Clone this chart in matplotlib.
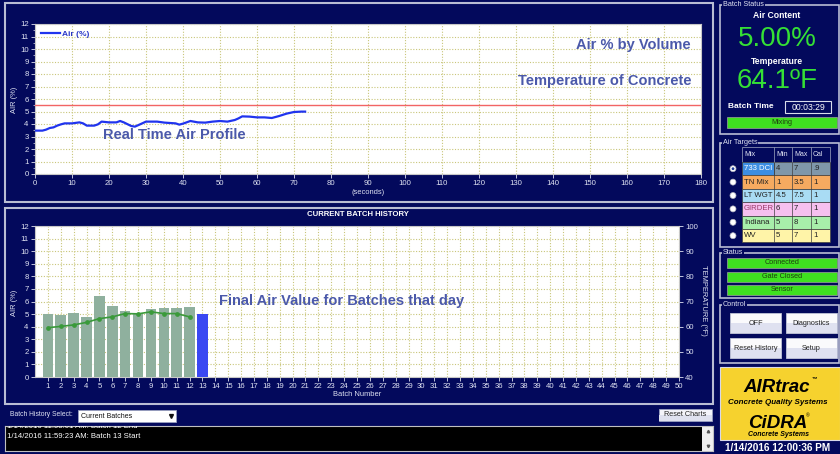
import matplotlib
matplotlib.use('Agg')
import matplotlib.pyplot as plt
from matplotlib.patches import Rectangle, Circle

plt.rcParams['font.family'] = ['Liberation Sans', 'DejaVu Sans']

# ---------------- data ----------------
air_time = [0, 2, 3, 4, 5, 6, 7, 8, 10, 12, 13, 14, 16, 17, 18, 20, 22, 23, 24, 26,
            27, 28, 30, 33, 35, 38, 39, 40, 42, 44, 46, 48, 50, 52, 54, 55, 56, 58, 60, 62,
            64, 66, 68, 70, 72, 73]
air_pct = [3.47, 3.47, 3.55, 3.68, 3.73, 3.87, 3.97, 4.05, 4.05, 4.13,
           4.05, 3.87, 3.87, 3.97, 4.19, 4.13, 4.13, 4.24, 4.13, 3.84,
           3.79, 3.92, 4.19, 4.19, 4.11, 4.05, 3.95, 4.03, 4.24, 4.13,
           4.11, 4.19, 4.24, 4.19, 4.32, 4.45, 4.61, 4.59, 4.53, 4.53,
           4.48, 4.64, 4.83, 4.96, 4.99, 4.99]
air_limit = 5.5

batches = list(range(1, 13))
batch_air = [5.01, 4.93, 5.12, 4.75, 6.45, 5.68, 5.25, 5.07, 5.41, 5.49, 5.49, 5.55]
batch_temp = [59.6, 60.1, 60.7, 61.7, 63.2, 63.9, 65.2, 65.1, 65.9, 65.2, 65.2, 63.9]
current_batch = [13]
current_air = [4.99]

mix_names = ['733 DCI', 'TN Mix', 'LT WGT', 'GIRDER', 'Indiana', 'WV']
mix_min = ['4', '1', '4.5', '6', '5', '5']
mix_max = ['7', '3.5', '7.5', '7', '8', '7']
mix_cal = ['.9', '1', '1', '1', '1', '1']
mix_colors = ['#7f97aa', '#f6aa60', '#a9dcf4', '#f6c0ef', '#a8efaa', '#fff4a8']

# ---------------- figure ----------------
W, H = 840, 454
NAVY = '#03095c'
TXT = '#dfe2f2'
ANN = '#4b59aa'
GRID = '#c9c67a'
EDGE = '#b9bdd3'
GREEN = '#3fe020'

fig = plt.figure(figsize=(W / 100, H / 100), dpi=100, facecolor=NAVY)
bg = fig.add_axes([0, 0, 1, 1], zorder=0)
bg.set_xlim(0, W)
bg.set_ylim(H, 0)
bg.axis('off')
bg.add_patch(Rectangle((0, 0), W, H, fc=NAVY, ec='none'))


def fpos(l, t, r, b):
    return [l / W, 1 - b / H, (r - l) / W, (b - t) / H]


def rect(x0, y0, x1, y1, fc='none', ec='none', lw=0.0, z=1):
    bg.add_patch(Rectangle((x0, y0), x1 - x0, y1 - y0, fc=fc, ec=ec, lw=lw, zorder=z))


def txt(x, y, s, size=6, color=TXT, ha='center', va='center', weight='normal', style='normal', z=5, **kw):
    bg.text(x, y, s, fontsize=size, color=color, ha=ha, va=va, fontweight=weight,
            fontstyle=style, zorder=z, **kw)


def group(x0, y0, x1, y1, label):
    rect(x0, y0, x1, y1, ec=EDGE, lw=1.2)
    txt(x0 + 3, y0, label, size=5.2, ha='left', color=TXT,
        bbox=dict(fc=NAVY, ec='none', pad=0.6))


# panels
rect(5, 3, 713, 202, ec=EDGE, lw=1.5)
rect(5, 208, 713, 404, ec=EDGE, lw=1.5)


def style_axes(ax):
    ax.set_facecolor('white')
    for sp in ax.spines.values():
        sp.set_color('#c8c8c8')
        sp.set_linewidth(0.8)
    ax.tick_params(colors=TXT, labelsize=5.6, length=3, width=0.6, pad=1.5)
    ax.tick_params(which='minor', colors=TXT, length=1.5, width=0.5)


# ---------- top chart ----------
ax1 = fig.add_axes(fpos(35, 24, 701, 174), zorder=2)
style_axes(ax1)
ax1.set_xlim(0, 180)
ax1.set_ylim(0, 12)
ax1.set_xticks(range(0, 181, 10))
ax1.set_yticks(range(0, 13))
ax1.set_yticks([i + 0.5 for i in range(12)], minor=True)
ax1.grid(True, which='major', color=GRID, ls=(0, (1, 1.5)), lw=0.8)
ax1.set_axisbelow(True)
ax1.axhline(air_limit, color='#f26464', lw=1.0, zorder=3)
ax1.plot(air_time, air_pct, color='#2034ee', lw=1.6, zorder=4, label='Air (%)')
leg = ax1.legend(loc='upper left', frameon=False, fontsize=6.0, handlelength=2.2,
                 borderaxespad=0.35, handletextpad=0.3)
for t in leg.get_texts():
    t.set_color('#2a38c8')
    t.set_fontweight('bold')
ax1.text(0.985, 0.86, 'Air % by Volume', transform=ax1.transAxes, ha='right', va='center',
         fontsize=10.5, fontweight='bold', color=ANN)
ax1.text(0.985, 0.62, 'Temperature of Concrete', transform=ax1.transAxes, ha='right', va='center',
         fontsize=10.5, fontweight='bold', color=ANN)
ax1.text(0.102, 0.26, 'Real Time Air Profile', transform=ax1.transAxes, ha='left', va='center',
         fontsize=10.5, fontweight='bold', color=ANN)
txt(15, 100, 'AIR (%)', size=5.4, rotation=90)
txt(368, 192, '(seconds)', size=5.4)

# ---------- bottom chart ----------
txt(358, 215, 'CURRENT BATCH HISTORY', size=5.6, weight='bold', color='white')
ax2 = fig.add_axes(fpos(35, 226, 679, 377), zorder=2)
style_axes(ax2)
ax2.set_xlim(0, 50)
ax2.set_ylim(0, 12)
ax2.set_xticks(range(1, 51))
ax2.set_yticks(range(0, 13))
ax2.grid(True, which='major', color=GRID, ls=(0, (1, 1.5)), lw=0.8)
ax2.set_axisbelow(True)
ax2.bar(batches, batch_air, width=0.82, color='#8fb09e', zorder=3)
ax2.bar(current_batch, current_air, width=0.82, color='#3a48f2', zorder=3)
ax2.text(0.285, 0.50, 'Final Air Value for Batches that day', transform=ax2.transAxes,
         ha='left', va='center', fontsize=10.5, fontweight='bold', color=ANN, zorder=6)
ax2r = ax2.twinx()
ax2r.set_zorder(3)
ax2r.patch.set_visible(False)
ax2r.set_ylim(40, 100)
ax2r.set_yticks(range(40, 101, 10))
for sp in ax2r.spines.values():
    sp.set_visible(False)
ax2r.tick_params(colors=TXT, labelsize=5.6, length=3, width=0.6, pad=1.5)
ax2r.plot(batches, batch_temp, color='#3a9a3a', lw=1.2, marker='o', ms=2.4)
txt(15, 303, 'AIR (%)', size=5.4, rotation=90)
txt(357, 395, 'Batch Number', size=5.4)
txt(704, 300, 'TEMPERATURE (ºF)', size=5.4, rotation=-90)

# ---------- bottom strip ----------
txt(10, 415, 'Batch History Select:', size=4.9, ha='left')
rect(78, 410, 176, 422, fc='white', ec='#9aa0c0', lw=0.6, z=2)
txt(81, 416, 'Current Batches', size=5.0, ha='left', color='#111111')
bg.plot([171], [416], marker='v', ms=2.8, color='#111111', zorder=6)
rect(659, 409, 712, 421, fc='#f4f4fa', ec='#9aa0c0', lw=0.6, z=2)
rect(659, 415, 712, 421, fc='#dfe1ef', z=2)
txt(685.5, 415, 'Reset Charts', size=5.2, color='#222222')

axlog = fig.add_axes(fpos(5, 426, 713, 451), zorder=2)
axlog.set_xlim(5, 713)
axlog.set_ylim(451, 426)
axlog.set_facecolor('black')
axlog.set_xticks([])
axlog.set_yticks([])
for sp in axlog.spines.values():
    sp.set_color('#c0c0c0')
    sp.set_linewidth(0.8)
axlog.text(7, 426.0, '1/14/2016 11:58:01 AM: Batch 12 End', fontsize=5.6, color='white',
           ha='left', va='center', clip_on=True)
axlog.text(7, 436, '1/14/2016 11:59:23 AM: Batch 13 Start', fontsize=5.6, color='white',
           ha='left', va='center', clip_on=True)
axlog.add_patch(Rectangle((702, 426), 11, 25, fc='#f0f0f0', ec='none'))
axlog.plot([707.5], [431], marker='^', ms=1.8, color='#555555')
axlog.plot([707.5], [446], marker='v', ms=1.8, color='#555555')

# ---------- right side: batch status ----------
group(720, 5, 839, 134, 'Batch Status')
txt(777, 15, 'Air Content', size=6.2, weight='bold', color='white')
txt(777, 39, '5.00%', size=20, color='#35e035')
txt(777, 61, 'Temperature', size=6.2, weight='bold', color='white')
txt(777, 81, '64.1ºF', size=20, color='#35e035')
txt(751, 107, 'Batch Time', size=6.0, weight='bold', color='white')
rect(785, 101, 831, 113, fc=NAVY, ec='#d8dcec', lw=0.8)
txt(808, 107.3, '00:03:29', size=6.2, color='white')
rect(727, 117, 837, 128, fc=GREEN, ec='#a0a0a0', lw=0.5)
txt(782, 122.5, 'Mixing', size=5.2, color='#1d3d10')

# ---------- air targets ----------
group(720, 143, 839, 247, 'Air Targets')
col_x = [742, 774, 792, 811, 830]
row_top = 147
hdr_h = 15
row_h = 13.4
rect(col_x[0], row_top, col_x[-1], row_top + hdr_h, fc=NAVY, ec='#8890b0', lw=0.6)
for ci, lab in enumerate(['Mix', 'Min', 'Max', 'Cal']):
    txt(col_x[ci] + 2, row_top + hdr_h / 2, lab, size=5.0, ha='left', color=TXT)
    if ci > 0:
        bg.plot([col_x[ci], col_x[ci]], [row_top, row_top + hdr_h], color='#8890b0', lw=0.6, zorder=3)
for ri in range(len(mix_names)):
    y0 = row_top + hdr_h + ri * row_h
    y1 = y0 + row_h
    rect(col_x[0], y0, col_x[-1], y1, fc=mix_colors[ri], ec='#404040', lw=0.5, z=2)
    if ri == 0:
        rect(col_x[0], y0, col_x[1], y1, fc='#3d8ee2', ec='#404040', lw=0.5, z=2)
    for cx in col_x[1:-1]:
        bg.plot([cx, cx], [y0, y1], color='#404040', lw=0.5, zorder=3)
    yc = (y0 + y1) / 2
    txt(col_x[0] + 2, yc, mix_names[ri], size=5.6, ha='left',
        color='white' if ri == 0 else ('#9a3a6a' if ri == 3 else '#222222'))
    txt(col_x[1] + 2, yc, mix_min[ri], size=5.6, ha='left', color='#222222')
    txt(col_x[2] + 2, yc, mix_max[ri], size=5.6, ha='left', color='#222222')
    txt(col_x[3] + 2, yc, mix_cal[ri], size=5.6, ha='left', color='#222222')
    bg.add_patch(Circle((733, yc), 3.0, fc='white', ec='#b0b0c0', lw=0.5, zorder=3))
    if ri == 0:
        bg.add_patch(Circle((733, yc), 1.4, fc='#1a3a9a', ec='none', zorder=4))

# ---------- status ----------
group(720, 253, 839, 298, 'Status')
for lab, y0 in [('Connected', 258), ('Gate Closed', 272), ('Sensor', 285)]:
    rect(727, y0, 837, y0 + 9.5, fc=GREEN, ec='#a0a0a0', lw=0.5)
    txt(782, y0 + 4.9, lab, size=5.2, color='#1d3d10')

# ---------- control ----------
group(720, 305, 839, 363, 'Control')
for lab, x0, y0 in [('OFF', 730, 313), ('Diagnostics', 786, 313),
                    ('Reset History', 730, 338), ('Setup', 786, 338)]:
    rect(x0, y0, x0 + 51, y0 + 20, fc='#fafafc', ec='#c0c4d8', lw=0.6, z=2)
    rect(x0 + 0.5, y0 + 10, x0 + 50.5, y0 + 19.5, fc='#dfe1f0', z=2)
    txt(x0 + 25.5, y0 + 10.3, lab, size=5.2, color='#222222')

# ---------- logo ----------
rect(720, 367, 840, 440, fc='#f6d22e', ec='#d8d8e8', lw=0.8)
txt(777, 387, 'AIRtrac', size=13.5, weight='bold', style='italic', color='black')
txt(814, 379, '™', size=4, color='black', weight='bold')
txt(778, 403, 'Concrete Quality Systems', size=5.8, weight='bold', style='italic', color='black')
txt(778, 423, 'CiDRA', size=13.5, weight='bold', style='italic', color='black')
txt(808, 416, '®', size=3.5, color='black')
txt(778, 434, 'Concrete Systems', size=5.0, weight='bold', style='italic', color='black')
txt(778, 448, '1/14/2016 12:00:36 PM', size=7.2, weight='bold', color='white')

fig.savefig('out.png', dpi=100, facecolor=NAVY)
